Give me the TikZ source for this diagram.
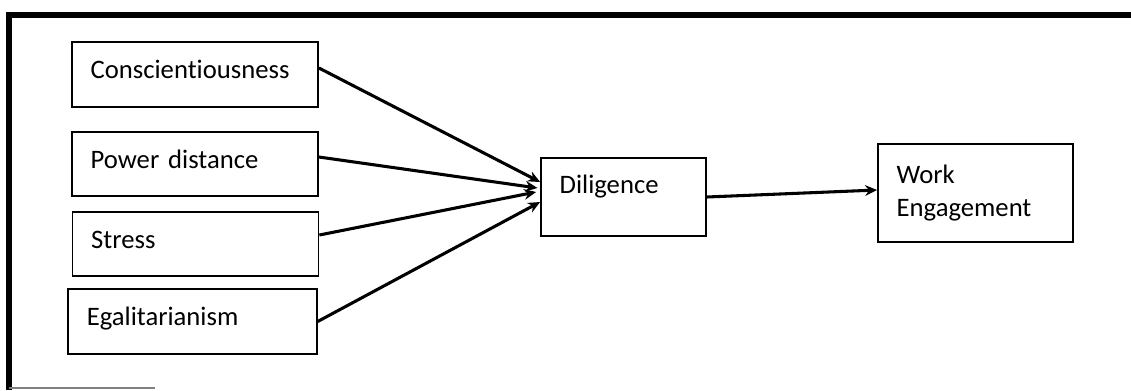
\documentclass[tikz,border=0pt]{standalone}
\usepackage{fontspec}
\setmainfont{Carlito}[Ligatures=CommonOff]
\usepackage{tikz}
\usetikzlibrary{arrows.meta, positioning}

\begin{document}
\begin{tikzpicture}[x=0.75pt, y=-0.75pt,
  box/.style={draw, line width=1.3pt, align=left, inner xsep=14pt, inner ysep=0pt,
    font=\fontsize{20}{24.5}\selectfont},
  src/.style={box, text width=156.5pt, minimum height=48.5pt, text height=14pt, text depth=8pt},
  link/.style={line width=2.3pt, -{Stealth[length=9pt, width=8pt]}}]
\useasboundingbox (0,0) rectangle (1131,390);
\draw[line width=4.2pt] (9,390) -- (9,15) -- (1131,15);
\draw[gray, line width=0.8pt] (9,388) -- (155,388);
\node[src] (cons) at (195,74.5) {Conscientiousness};
\node[src] (pow) at (195,164) {Power distance};
\node[src] (str) at (195.5,244) {Stress};
\node[src, text width=158.5pt] (egal) at (192.5,321.5) {Egalitarianism};
\node[box, text width=95.75pt, minimum height=58.5pt, text height=14pt, text depth=19pt] (dil) at (623.5,197) {Diligence};
\node[box, text width=118.25pt, minimum height=73.5pt] (we) at (975.5,193) {Work\\Engagement};
\draw[link] ([yshift=4.9pt]cons.east) -- ([yshift=11.25pt]dil.west);
\draw[link] ([yshift=5.25pt]pow.east) -- ([xshift=-2pt, yshift=6.75pt]dil.west);
\draw[link] ([yshift=6.75pt]str.east) -- ([xshift=-3pt, yshift=3.75pt]dil.west);
\draw[link] (egal.east) -- ([yshift=-3.75pt]dil.west);
\draw[link] (dil.east) -- ([yshift=2.25pt]we.west);
\end{tikzpicture}
\end{document}
